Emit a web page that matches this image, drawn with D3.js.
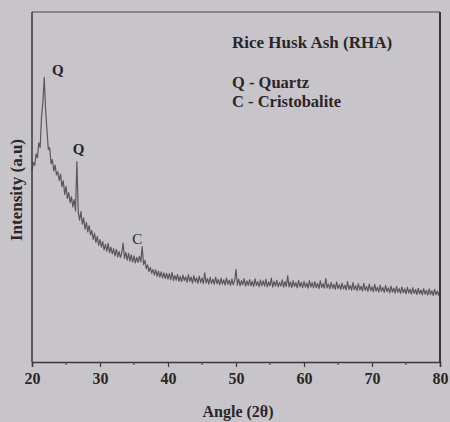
<!DOCTYPE html>
<html>
<head>
<meta charset="utf-8">
<script src="https://cdn.jsdelivr.net/npm/d3@7"></script>
<style>
  body { margin: 0; background: #c8c5ca; }
  svg { display: block; }
  text { font-family: "Liberation Serif", "Times New Roman", serif; fill: #2a2628; }
</style>
</head>
<body>
<div id="chart"></div>
<script>
// XRD pattern: 2theta from 20 to 80 in 0.2 steps
var angleStart = 20, angleStep = 0.2;
var intensity = [
  54.5, 56.8, 55.9, 59.2, 58.1, 62.4, 61.0, 70.0, 74.0, 81.2,
  72.0, 66.0, 60.5, 61.0, 56.4, 57.6, 54.3, 56.0, 53.2, 54.1,
  51.6, 53.4, 49.8, 51.5, 47.6, 49.9, 46.4, 48.1, 45.2, 46.9,
  44.0, 46.1, 42.8, 57.0, 42.5, 40.2, 42.6, 39.0, 40.8, 37.6,
  39.5, 36.8, 38.6, 35.9, 37.2, 34.6, 36.4, 33.8, 35.5, 33.0,
  34.6, 32.4, 34.0, 31.6, 33.2, 31.2, 33.5, 30.8, 32.4, 30.5,
  32.0, 29.9, 31.8, 29.6, 31.2, 29.4, 30.8, 33.6, 29.2, 30.9,
  28.7, 30.6, 28.4, 30.2, 28.1, 29.9, 27.9, 29.5, 28.0, 29.8,
  28.2, 32.6, 27.4, 28.6, 26.2, 27.3, 25.4, 26.6, 24.9, 26.0,
  24.4, 25.9, 24.0, 25.5, 23.8, 25.3, 23.6, 25.0, 23.4, 24.9,
  23.2, 24.8, 23.1, 25.2, 22.8, 24.3, 22.9, 24.6, 22.6, 24.0,
  22.5, 24.4, 22.8, 23.9, 22.3, 24.5, 22.6, 23.8, 22.1, 24.2,
  22.4, 23.6, 22.0, 24.1, 22.2, 23.5, 21.9, 25.0, 22.1, 23.4,
  21.8, 23.7, 22.0, 23.2, 21.7, 23.8, 21.9, 23.1, 21.6, 23.5,
  21.8, 23.0, 21.5, 23.6, 21.7, 22.9, 21.4, 23.3, 21.6, 22.8,
  26.0, 21.5, 23.2, 21.3, 22.8, 21.6, 23.4, 21.2, 22.7, 21.4,
  23.1, 21.3, 22.6, 21.1, 23.3, 21.4, 22.5, 21.0, 23.0, 21.3,
  22.7, 21.2, 23.2, 21.0, 22.4, 21.3, 23.5, 20.9, 22.6, 21.2,
  22.9, 21.0, 22.3, 21.2, 23.0, 20.9, 22.5, 21.1, 24.2, 21.0,
  22.4, 20.8, 22.8, 21.1, 22.2, 20.7, 22.9, 21.0, 22.3, 20.8,
  22.6, 20.9, 22.1, 20.6, 22.8, 20.9, 22.2, 20.7, 22.5, 20.8,
  22.0, 20.5, 22.7, 20.8, 21.9, 20.6, 23.4, 20.7, 21.8, 20.4,
  22.3, 20.6, 21.7, 20.3, 22.4, 20.5, 21.6, 20.2, 22.1, 20.4,
  21.5, 20.1, 22.5, 20.3, 21.4, 20.0, 22.2, 20.2, 21.3, 19.9,
  21.9, 20.1, 21.2, 19.8, 22.0, 20.0, 21.1, 19.7, 21.8, 19.9,
  21.0, 19.6, 21.7, 19.8, 20.9, 19.5, 21.5, 19.7, 20.8, 19.4,
  21.4, 19.6, 20.7, 19.3, 21.2, 19.5, 20.6, 19.2, 21.1, 19.4,
  20.5, 19.1, 21.0, 19.3, 20.4, 19.0, 20.9, 19.2, 20.3, 18.9,
  20.8, 19.1, 20.2, 18.8, 20.6, 19.0, 20.1, 18.7, 20.5, 18.9,
  20.0, 18.6, 20.4, 18.8, 19.9, 18.5, 20.3, 18.7, 19.8, 18.6,
  20.0
];
var xTicks = [20, 30, 40, 50, 60, 70, 80];
var xMinorTicks = [25, 35, 45, 55, 65, 75];
// peak marks: label, angle, value where the label sits
var peakLabels = ["Q", "Q", "C"];
var peakAngles = [21.9, 26.7, 36.2];
var peakLabelValues = [82.0, 59.1, 33.4];
var legendTitle = "Rice Husk Ash (RHA)";
var legendItems = ["Q - Quartz", "C - Cristobalite"];

var width = 450, height = 422;
var margin = {top: 12, right: 10, bottom: 60, left: 32};

var svg = d3.select("#chart").append("svg")
    .attr("width", width)
    .attr("height", height);

var x = d3.scaleLinear().domain([20, 80]).range([margin.left, width - margin.right]);
var y = d3.scaleLinear().domain([-0.6, 100]).range([height - margin.bottom, margin.top]);

var data = intensity.map(function(v, i) {
  return {a: angleStart + i * angleStep, v: v};
});

// soften the trace a little, like the scanned original
var defs = svg.append("defs");
defs.append("filter").attr("id", "soft")
  .append("feGaussianBlur").attr("stdDeviation", 0.45);

// pattern
var line = d3.line()
    .x(function(d) { return x(d.a); })
    .y(function(d) { return y(d.v); });

svg.append("path")
    .datum(data)
    .attr("d", line)
    .attr("fill", "none")
    .attr("stroke", "#5a565b")
    .attr("stroke-width", 1.2)
    .attr("stroke-linejoin", "round")
    .attr("filter", "url(#soft)");

// frame
var x0 = x(20), x1 = x(80), y0 = y.range()[0], y1 = y.range()[1];
svg.append("line").attr("x1", x0).attr("x2", x1).attr("y1", y1).attr("y2", y1)
    .attr("stroke", "#4a4649").attr("stroke-width", 1.2);
svg.append("line").attr("x1", x0).attr("x2", x0).attr("y1", y1).attr("y2", y0)
    .attr("stroke", "#3a3639").attr("stroke-width", 1.5);
svg.append("line").attr("x1", x1).attr("x2", x1).attr("y1", y1).attr("y2", y0)
    .attr("stroke", "#3a3639").attr("stroke-width", 2);

// x axis
var xAxis = svg.append("g")
    .attr("transform", "translate(0," + y0 + ")")
    .call(d3.axisBottom(x).tickValues(xTicks).tickSize(5).tickPadding(6).tickFormat(d3.format("d")));
xAxis.select(".domain").attr("stroke", "#3a3639").attr("stroke-width", 1.5);
xAxis.selectAll(".tick line").attr("stroke", "#3a3639").attr("stroke-width", 1.2);
xAxis.selectAll(".tick text")
    .attr("fill", "#2a2628")
    .style("font-family", "'Liberation Serif', serif")
    .style("font-size", "16px")
    .style("font-weight", "bold");

svg.append("g").selectAll("line")
    .data(xMinorTicks)
    .enter()
    .append("line")
    .attr("x1", function(d) { return x(d); })
    .attr("x2", function(d) { return x(d); })
    .attr("y1", y0)
    .attr("y2", y0 + 3)
    .attr("stroke", "#3a3639")
    .attr("stroke-width", 1);

// axis titles
svg.append("text")
    .attr("x", 238)
    .attr("y", 417)
    .attr("text-anchor", "middle")
    .style("font-size", "16px")
    .style("font-weight", "bold")
    .text("Angle (2\u03B8)");

svg.append("text")
    .attr("transform", "translate(22," + 190 + ") rotate(-90)")
    .attr("text-anchor", "middle")
    .style("font-size", "17px")
    .style("font-weight", "bold")
    .text("Intensity (a.u)");

// peak labels
svg.append("g").selectAll("text")
    .data(peakLabels)
    .enter()
    .append("text")
    .attr("x", function(d, i) { return x(peakAngles[i]) + (i == 0 ? 13 : (i == 1 ? 1 : -5)); })
    .attr("y", function(d, i) { return y(peakLabelValues[i]); })
    .attr("text-anchor", "middle")
    .style("font-size", "15px")
    .style("font-weight", function(d, i) { return i == 2 ? "normal" : "bold"; })
    .text(function(d) { return d; });

// legend
svg.append("text")
    .attr("x", 232)
    .attr("y", 48)
    .style("font-size", "17px")
    .style("font-weight", "bold")
    .text(legendTitle);

svg.append("g").selectAll("text")
    .data(legendItems)
    .enter()
    .append("text")
    .attr("x", 232)
    .attr("y", function(d, i) { return 88 + i * 19; })
    .style("font-size", "16.5px")
    .style("font-weight", "bold")
    .text(function(d) { return d; });
</script>
</body>
</html>
